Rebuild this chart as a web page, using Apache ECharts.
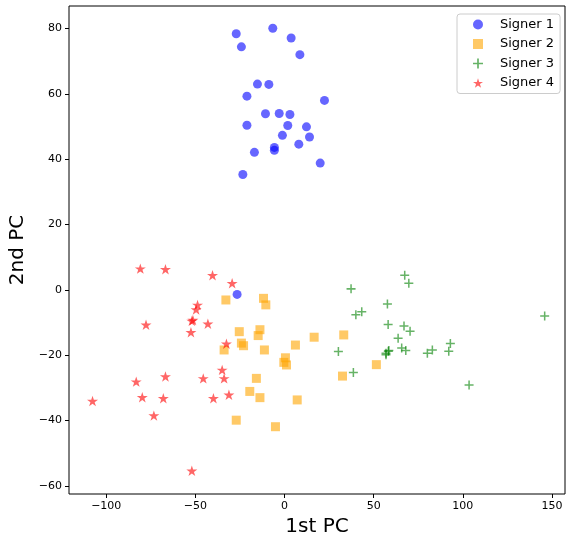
<!DOCTYPE html>
<html>
<head>
<meta charset="utf-8">
<script src="https://cdn.jsdelivr.net/npm/echarts@6/dist/echarts.min.js"></script>
<style>
html,body{margin:0;padding:0;background:#fff;}
#chart{width:566px;height:537px;}
</style>
</head>
<body>
<div id="chart"></div>
<script>
var seriesNames = ['Signer 1', 'Signer 2', 'Signer 3', 'Signer 4'];
var xTicks = [-100, -50, 0, 50, 100, 150];
var yTicks = [-60, -40, -20, 0, 20, 40, 60, 80];

var signer1 = [
  [-27.1, 78.4], [-6.6, 80.1], [3.7, 77.1], [-24.2, 74.4], [8.6, 72.0],
  [-15.2, 63.0], [-8.8, 62.9], [-21.1, 59.3], [22.4, 58.0], [-10.7, 53.9],
  [-3.0, 54.0], [3.0, 53.7], [-21.1, 50.4], [1.8, 50.3], [12.3, 49.9],
  [14.0, 46.8], [-1.2, 47.3], [8.0, 44.6], [-5.7, 43.6], [-5.7, 42.7],
  [-16.9, 42.1], [20.0, 38.8], [-23.4, 35.3], [-26.6, -1.4]
];
var signer2 = [
  [-32.9, -3.1], [-11.8, -2.6], [-10.5, -4.6], [-25.4, -12.8], [-13.8, -12.2],
  [-14.8, -14.0], [-24.2, -16.3], [-23.0, -17.1], [-33.9, -18.4], [-11.3, -18.4],
  [6.1, -16.9], [16.6, -14.5], [33.2, -13.8], [0.5, -20.8], [-0.4, -22.2],
  [1.1, -23.0], [32.5, -26.4], [-15.8, -27.1], [-19.5, -31.1], [-13.8, -33.0],
  [7.1, -33.7], [-27.1, -39.9], [-5.1, -41.9], [51.5, -22.9]
];
var signer3 = [
  [67.4, 4.5], [69.7, 2.0], [37.3, 0.3], [57.7, -4.3], [43.3, -6.7],
  [40.0, -7.6], [145.9, -8.0], [58.1, -10.6], [67.0, -11.1], [70.4, -12.7],
  [63.7, -14.8], [93.0, -16.4], [65.7, -17.8], [68.0, -18.6], [92.1, -18.8],
  [82.9, -18.4], [80.1, -19.4], [30.2, -18.9], [58.2, -18.8], [56.9, -19.4],
  [56.9, -19.9], [58.5, -18.6], [38.6, -25.3], [103.5, -29.1]
];
var signer4 = [
  [-80.9, 6.5], [-66.8, 6.3], [-40.4, 4.5], [-29.4, 2.0], [-48.8, -4.6],
  [-49.6, -6.0], [-51.4, -9.2], [-52.0, -9.5], [-77.7, -10.7], [-43.0, -10.4],
  [-52.5, -13.0], [-32.6, -16.5], [-35.0, -24.5], [-33.9, -27.1], [-66.8, -26.5],
  [-45.6, -27.1], [-83.2, -28.1], [-79.8, -32.9], [-68.0, -33.2], [-39.9, -33.2],
  [-31.2, -32.1], [-107.7, -34.0], [-73.3, -38.5], [-52.0, -55.4]
];

var PLUS = 'path://M8.3,0 H11.7 V8.3 H20 V11.7 H11.7 V20 H8.3 V11.7 H0 V8.3 H8.3 Z';
var STAR = 'path://M50,0 L61.23,34.55 L97.55,34.55 L68.17,55.9 L79.39,90.45 L50,69.1 L20.61,90.45 L31.83,55.9 L2.45,34.55 L38.77,34.55 Z';

var FONT = 'DejaVu Sans';
function fmt(v){ return String(v).replace('-', '\u2212'); }

var chart = echarts.init(document.getElementById('chart'), null, {renderer: 'canvas'});
chart.setOption({
  animation: false,
  backgroundColor: '#fff',
  grid: {left: 69, right: 1, top: 6, bottom: 43, show: true, borderColor: '#000', borderWidth: 1,
         backgroundColor: 'transparent', containLabel: false, outerBoundsMode: 'none'},
  legend: {
    orient: 'vertical', left: 457, top: 14,
    padding: [3, 6, 3, 16], itemGap: 4.5, itemWidth: 10, itemHeight: 10,
    borderColor: '#cccccc', borderWidth: 1, borderRadius: 3, backgroundColor: '#fff',
    textStyle: {fontFamily: FONT, fontSize: 13, color: '#000', lineHeight: 15, padding: [0, 0, 0, 12]},
    data: seriesNames
  },
  xAxis: {
    type: 'value', min: -120.9, max: 157.3,
    splitLine: {show: false},
    axisLine: {show: false, onZero: false},
    axisTick: {show: true, inside: false, length: 4, lineStyle: {color: '#000'}, customValues: xTicks},
    axisLabel: {fontFamily: FONT, fontSize: 11, color: '#000', margin: 7, customValues: xTicks, formatter: fmt},
    name: '1st PC', nameLocation: 'middle', nameGap: 22,
    nameTextStyle: {fontFamily: FONT, fontSize: 20, color: '#000', verticalAlign: 'top'}
  },
  yAxis: {
    type: 'value', min: -62.5, max: 86.9,
    splitLine: {show: false},
    axisLine: {show: false, onZero: false},
    axisTick: {show: true, inside: false, length: 4, lineStyle: {color: '#000'}, customValues: yTicks},
    axisLabel: {fontFamily: FONT, fontSize: 11, color: '#000', margin: 7, customValues: yTicks, formatter: fmt},
    name: '2nd PC', nameLocation: 'middle', nameGap: 32,
    nameTextStyle: {fontFamily: FONT, fontSize: 20, color: '#000'}
  },
  series: [
    {name: seriesNames[0], type: 'scatter', data: signer1, symbol: 'circle', symbolSize: 9,
     itemStyle: {color: '#0000ff', opacity: 0.6}},
    {name: seriesNames[1], type: 'scatter', data: signer2, symbol: 'rect', symbolSize: 9,
     itemStyle: {color: '#ffa500', opacity: 0.6}},
    {name: seriesNames[2], type: 'scatter', data: signer3, symbol: PLUS, symbolSize: 9,
     itemStyle: {color: '#008000', opacity: 0.6}},
    {name: seriesNames[3], type: 'scatter', data: signer4, symbol: STAR, symbolSize: 11, symbolKeepAspect: true,
     itemStyle: {color: '#ff0000', opacity: 0.6}}
  ]
});
</script>
</body>
</html>
